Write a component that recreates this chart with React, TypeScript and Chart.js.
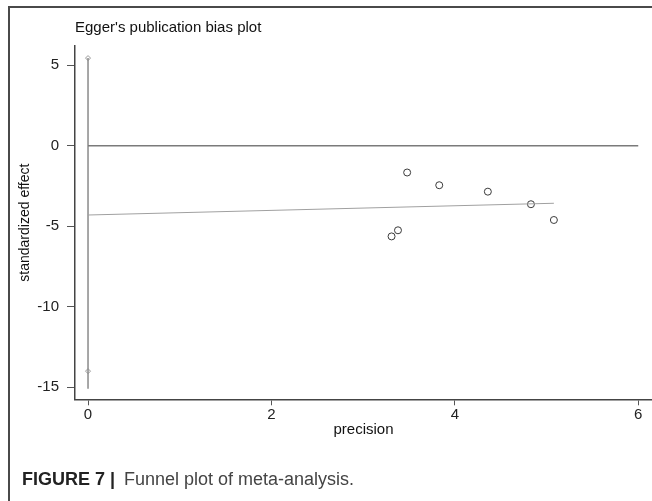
import React, { useEffect, useRef } from "react";
import { Chart, registerables } from "chart.js";

Chart.register(...registerables);

// Study points (precision vs standardized effect)
const precision = [3.48, 3.83, 4.36, 4.83, 5.08, 3.38, 3.31];
const stdEffect = [-1.66, -2.45, -2.85, -3.63, -4.61, -5.25, -5.63];

// Egger regression line endpoints
const regX = [0, 5.08];
const regY = [-4.3, -3.57];

// Reference (null effect) line
const zeroX = [0, 6];
const zeroY = [0, 0];

// Intercept confidence interval (drawn at precision 0)
const ciLineY = [5.45, -15.1];
const ciMarkY = [5.45, -14.0];

const xTicks = [0, 2, 4, 6];
const yTicks = [-15, -10, -5, 0, 5];

const titleText = "Egger's publication bias plot";
const xTitle = "precision";
const yTitle = "standardized effect";
const captionBold = "FIGURE 7 |";
const captionText = "Funnel plot of meta-analysis.";

const FONT = "'Liberation Sans', Arial, Helvetica, sans-serif";

const decorPlugin = {
  id: "decor",
  afterDraw(chart: any) {
    const ctx = chart.ctx;
    ctx.save();
    // frame (top and left)
    ctx.strokeStyle = "#4a4a4a";
    ctx.lineWidth = 2;
    ctx.beginPath();
    ctx.moveTo(652, 7);
    ctx.lineTo(9, 7);
    ctx.lineTo(9, 501);
    ctx.stroke();
    // title
    ctx.fillStyle = "#111";
    ctx.font = `15px ${FONT}`;
    ctx.textBaseline = "middle";
    ctx.textAlign = "left";
    ctx.fillText(titleText, chart.chartArea.left, 28);
    // caption
    ctx.textBaseline = "alphabetic";
    ctx.font = `bold 18px ${FONT}`;
    ctx.fillStyle = "#222";
    ctx.fillText(captionBold, 22, 485);
    ctx.font = `18px ${FONT}`;
    ctx.fillStyle = "#444";
    ctx.fillText(captionText, 124, 485);
    ctx.restore();
  },
};

export default function App() {
  const ref = useRef<HTMLCanvasElement | null>(null);

  useEffect(() => {
    if (!ref.current) return;
    const chart = new Chart(ref.current, {
      type: "scatter",
      data: {
        datasets: [
          {
            type: "line",
            data: zeroX.map((x, i) => ({ x, y: zeroY[i] })),
            borderColor: "#7a7a7a",
            borderWidth: 1.5,
            pointRadius: 0,
            fill: false,
          },
          {
            type: "line",
            data: regX.map((x, i) => ({ x, y: regY[i] })),
            borderColor: "#a0a0a0",
            borderWidth: 1,
            pointRadius: 0,
            fill: false,
          },
          {
            type: "line",
            data: ciLineY.map((y) => ({ x: 0, y })),
            borderColor: "#8a8a8a",
            borderWidth: 1.5,
            pointRadius: 0,
            fill: false,
          },
          {
            data: ciMarkY.map((y) => ({ x: 0, y })),
            pointStyle: "rectRot",
            pointRadius: 2.5,
            borderColor: "#999",
            backgroundColor: "#fff",
            borderWidth: 1,
          },
          {
            data: precision.map((x, i) => ({ x, y: stdEffect[i] })),
            pointStyle: "circle",
            pointRadius: 3.5,
            borderColor: "#3a3a3a",
            backgroundColor: "#fff",
            borderWidth: 1,
          },
        ],
      },
      options: {
        responsive: false,
        animation: false,
        layout: { autoPadding: false, padding: { top: 46, left: 0, right: 0, bottom: 0 } },
        plugins: {
          legend: { display: false },
          tooltip: { enabled: false },
          title: { display: false },
        },
        scales: {
          x: {
            type: "linear",
            min: -0.142,
            max: 6.15,
            afterBuildTicks: (s: any) => {
              s.ticks = xTicks.map((v) => ({ value: v }));
            },
            afterFit: (s: any) => {
              s.height = 101.7;
              s.paddingLeft = 0;
              s.paddingRight = 0;
            },
            ticks: {
              color: "#222",
              font: { family: FONT, size: 15 },
              padding: 1,
              maxRotation: 0,
              autoSkip: false,
            },
            grid: {
              drawOnChartArea: false,
              drawTicks: true,
              tickLength: 6,
              color: "#555",
            },
            border: { display: true, color: "#444", width: 1.5 },
            title: {
              display: true,
              text: xTitle,
              color: "#111",
              font: { family: FONT, size: 15 },
              padding: { top: 0, bottom: 62 },
            },
          },
          y: {
            type: "linear",
            min: -15.75,
            max: 6.2,
            afterBuildTicks: (s: any) => {
              s.ticks = yTicks.map((v) => ({ value: v }));
            },
            afterFit: (s: any) => {
              s.width = 75;
              s.paddingTop = 0;
              s.paddingBottom = 0;
            },
            ticks: {
              color: "#222",
              font: { family: FONT, size: 15 },
              padding: 8,
              autoSkip: false,
            },
            grid: {
              drawOnChartArea: false,
              drawTicks: true,
              tickLength: 8,
              color: "#555",
            },
            border: { display: true, color: "#444", width: 1.5 },
            title: {
              display: true,
              text: yTitle,
              color: "#111",
              font: { family: FONT, size: 14 },
              padding: { top: 16.6, bottom: 0 },
            },
          },
        },
      },
      plugins: [decorPlugin],
    } as any);
    return () => chart.destroy();
  }, []);

  return (
    <div style={{ position: "absolute", left: 0, top: 0, width: 652, height: 501, background: "#fff" }}>
      <canvas ref={ref} width={652} height={501} style={{ display: "block" }} />
    </div>
  );
}
